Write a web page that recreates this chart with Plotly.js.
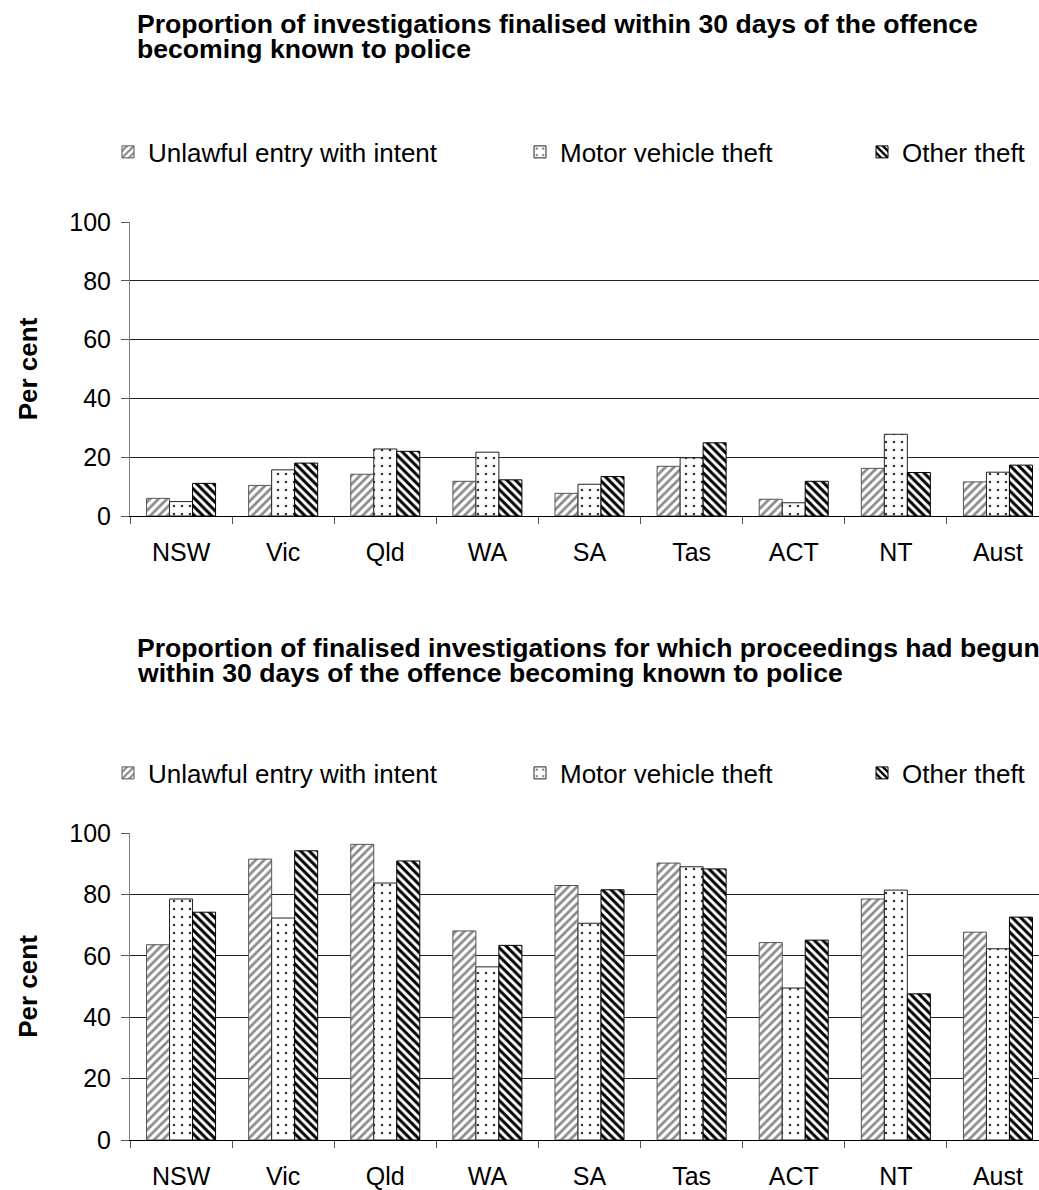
<!DOCTYPE html>
<html>
<head>
<meta charset="utf-8">
<script src="https://cdn.plot.ly/plotly-3.0.1.min.js"></script>
<style>
html,body{margin:0;padding:0;overflow:hidden;background:#fff;}
#chart{width:1060px;height:1190px;}
</style>
</head>
<body>
<div id="chart"></div>
<script>
// ---- data ----
const categories = ['NSW','Vic','Qld','WA','SA','Tas','ACT','NT','Aust'];
const seriesNames = ['Unlawful entry with intent','Motor vehicle theft','Other theft'];

const topTitleLines = ['Proportion of investigations finalised within 30 days of the offence',
                       'becoming known to police'];
const topUnlawful = [6.0, 10.4, 14.2, 11.8, 7.7, 16.9, 5.7, 16.2, 11.6];
const topMotor    = [4.9, 15.7, 22.8, 21.7, 10.8, 19.8, 4.5, 27.8, 14.9];
const topOther    = [11.1, 18.0, 22.0, 12.3, 13.4, 24.9, 11.8, 14.8, 17.3];

const botTitleLines = ['Proportion of finalised investigations for which proceedings had begun',
                       'within 30 days of the offence becoming known to police'];
const botUnlawful = [63.6, 91.5, 96.3, 68.1, 82.9, 90.2, 64.3, 78.5, 67.7];
const botMotor    = [78.5, 72.3, 83.7, 56.4, 70.6, 89.0, 49.5, 81.4, 62.3];
const botOther    = [74.2, 94.2, 90.9, 63.4, 81.5, 88.3, 65.1, 47.6, 72.6];

const yTitle = 'Per cent';
const yTicks = [0, 20, 40, 60, 80, 100];

// ---- styles ----
const FONT = 'Liberation Sans, Arial, Helvetica, sans-serif';
const styles = [
  {line:'#555555', pattern:{shape:'/', fgcolor:'#8a8a8a', bgcolor:'#ffffff', size:6, solidity:0.45}},
  {line:'#222222', pattern:{shape:'.', fgcolor:'#333333', bgcolor:'#ffffff', size:8, solidity:0.08}},
  {line:'#000000', pattern:{shape:'\\', fgcolor:'#000000', bgcolor:'#ffffff', size:6, solidity:0.5}}
];

function mk(vals, i, xa, ya, legendId){
  return {
    type:'bar', x:categories, y:vals, name:seriesNames[i],
    xaxis:xa, yaxis:ya, legend:legendId, showlegend:true,
    marker:{color:'#ffffff', line:{color:styles[i].line, width:1}, pattern:styles[i].pattern},
    hoverinfo:'x+y+name'
  };
}

const data = [
  mk(topUnlawful,0,'x','y','legend'),
  mk(topMotor,1,'x','y','legend2'),
  mk(topOther,2,'x','y','legend3'),
  mk(botUnlawful,0,'x2','y2','legend4'),
  mk(botMotor,1,'x2','y2','legend5'),
  mk(botOther,2,'x2','y2','legend6')
];

const W = 1060, H = 1190, L = 130, R = 11;
const PW = W - L - R;
const px2x = p => (p - L) / PW;
const py2y = p => 1 - p / H;

function xax(anchor){
  return {
    anchor:anchor, domain:[0,1], type:'category',
    showline:true, linecolor:'#000', linewidth:1,
    ticks:'outside', tickson:'boundaries', ticklen:7, tickcolor:'#555', tickwidth:1,
    tickfont:{family:FONT, size:25, color:'#000'},
    ticklabelstandoff:14,
    showgrid:false, zeroline:false, fixedrange:true
  };
}
function yax(anchor, dom){
  return {
    anchor:anchor, domain:dom, range:[0,100], tickvals:yTicks,
    showline:true, linecolor:'#808080', linewidth:1,
    ticks:'outside', ticklen:8, tickcolor:'#555', tickwidth:1,
    tickfont:{family:FONT, size:25, color:'#000'},
    ticklabelstandoff:5,
    showgrid:true, gridcolor:'#222', gridwidth:1,
    zeroline:false, fixedrange:true,
    title:{text:yTitle, font:{family:FONT, size:26, color:'#000', weight:700}, standoff:24}
  };
}
function leg(xpx, ypx){
  return {x:px2x(xpx), y:py2y(ypx), xanchor:'left', yanchor:'middle', orientation:'h',
          bgcolor:'rgba(0,0,0,0)', borderwidth:0,
          font:{family:FONT, size:26, color:'#000'}};
}
function ann(text, xpx, ypx){
  return {text:text, xref:'paper', yref:'paper', x:px2x(xpx), y:py2y(ypx),
          xanchor:'left', yanchor:'middle', showarrow:false,
          font:{family:FONT, size:26.6, color:'#000', weight:700}};
}

const layout = {
  width:W, height:H,
  margin:{l:L, r:R, t:0, b:0},
  paper_bgcolor:'#fff', plot_bgcolor:'#fff',
  font:{family:FONT, color:'#000'},
  barmode:'group', bargap:0.324, bargroupgap:0,
  xaxis:xax('y'), yaxis:yax('x',[py2y(516), py2y(222)]),
  xaxis2:xax('y2'), yaxis2:yax('x2',[py2y(1140), py2y(833)]),
  legend:leg(108,152), legend2:leg(520,152), legend3:leg(862,152),
  legend4:leg(108,773), legend5:leg(520,773), legend6:leg(862,773),
  annotations:[
    ann(topTitleLines[0],135,24), ann(topTitleLines[1],135,49),
    ann(botTitleLines[0],135,648), ann(botTitleLines[1],135,673)
  ],
  showlegend:true
};

Plotly.newPlot('chart', data, layout, {displayModeBar:false, staticPlot:true});
</script>
</body>
</html>
